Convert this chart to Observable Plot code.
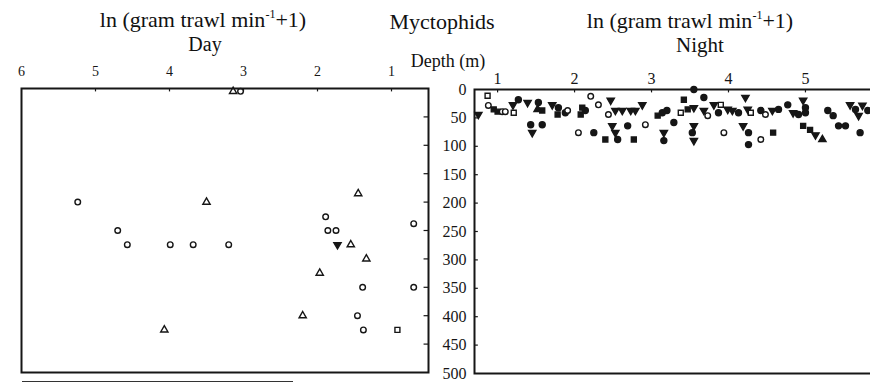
<!DOCTYPE html>
<html><head><meta charset="utf-8">
<script src="https://cdn.jsdelivr.net/npm/d3@7"></script>
<script src="https://cdn.jsdelivr.net/npm/@observablehq/plot@0.6"></script>
<style>
html,body{margin:0;padding:0;background:#fff;}
#wrap{position:relative;width:870px;height:383px;overflow:hidden;font-family:"Liberation Serif","Times New Roman",serif;color:#111;}
.t{position:absolute;white-space:nowrap;line-height:1;transform:translateX(-50%);}
.t sup{font-size:55%;vertical-align:0;position:relative;top:-0.75em;}
#left,#right{position:absolute;top:0;height:383px;}
#left{left:0;width:440px;}
#right{left:430px;width:450px;}
#left svg,#right svg{max-width:none !important;}
#legendline{position:absolute;left:22px;top:381px;width:271px;height:0;border-top:1.5px solid #333;}
</style></head><body>
<div id="wrap">
  <div id="left"></div>
  <div id="right"></div>
  <div class="t" style="left:203px;top:9px;font-size:22px;">ln (gram trawl min<sup>-1</sup>+1)</div>
  <div class="t" style="left:205px;top:34px;font-size:20px;">Day</div>
  <div class="t" style="left:442px;top:11px;font-size:22px;">Myctophids</div>
  <div class="t" style="left:448px;top:52px;font-size:18px;">Depth (m)</div>
  <div class="t" style="left:690px;top:10px;font-size:22px;">ln (gram trawl min<sup>-1</sup>+1)</div>
  <div class="t" style="left:700px;top:35px;font-size:21px;">Night</div>
  <div id="legendline"></div>
</div>
<script>
// ---- data ----
const depthTicks = [0, 50, 100, 150, 200, 250, 300, 350, 400, 450, 500];
const dayTicks = [6, 5, 4, 3, 2, 1];
const nightTicks = [1, 2, 3, 4, 5];

// Day: ln(g/trawl-min + 1), depth (m), symbol key
const dayValues = [3.14, 3.04, 5.24, 3.5, 1.45, 1.89, 0.7, 4.7, 1.86, 1.75, 4.57, 3.99, 3.68, 3.2, 1.73, 1.55, 1.34, 1.97, 1.39, 0.7, 2.2, 1.46, 4.07, 1.38, 0.92];
const dayDepths = [5, 5, 200, 200, 185, 226, 238, 250, 250, 250, 275, 275, 275, 275, 275, 275, 300, 325, 350, 350, 400, 400, 425, 425, 425];
const daySymbols = ["ot", "oc", "oc", "ot", "ot", "oc", "oc", "oc", "oc", "oc", "oc", "oc", "oc", "oc", "fd", "ot", "ot", "ot", "oc", "oc", "ot", "oc", "ot", "oc", "os"];

// Night
const nightValues = [0.87, 0.75, 0.88, 0.95, 1.06, 1.10, 1.00, 1.20, 1.27, 1.21, 1.39, 1.53, 1.52, 1.58, 1.43, 1.58, 1.45, 1.71, 1.79, 1.78, 1.88,
  2.21, 2.10, 2.08, 2.14, 1.91, 2.31, 2.47, 2.44, 2.53, 2.62, 2.73, 2.79, 2.88, 2.05, 2.25, 2.40, 2.49, 2.53, 2.56, 2.69, 2.92, 2.77, 3.08, 3.14,
  3.55, 3.42, 3.47, 3.38, 3.55, 3.68, 3.68, 3.81, 3.90, 3.87, 3.99, 4.05, 4.13, 4.22, 4.25, 4.29, 3.73, 3.20, 3.29, 3.55, 3.53, 3.55, 3.94, 4.19, 4.26, 4.26, 3.16, 3.16,
  4.42, 4.48, 4.57, 4.65, 4.77, 4.84, 4.91, 4.97, 5.00, 5.00, 4.58, 4.42, 4.97, 5.06, 5.13, 5.22, 5.29, 5.36, 5.43, 5.52, 5.58, 5.65, 5.69, 5.74, 5.81, 5.71];
const nightDepths = [11, 44, 28, 35, 39, 39, 39, 27, 18, 41, 23, 23, 35, 37, 62, 62, 76, 27, 32, 44, 41,
  12, 32, 44, 37, 37, 27, 19, 44, 37, 37, 37, 37, 27, 76, 76, 88, 64, 76, 88, 64, 62, 88, 46, 41,
  0, 18, 35, 41, 32, 14, 37, 27, 27, 41, 35, 37, 41, 14, 35, 41, 46, 37, 58, 64, 76, 90, 76, 64, 76, 97, 76, 90,
  37, 44, 37, 35, 27, 41, 44, 19, 32, 41, 76, 88, 64, 71, 80, 88, 37, 46, 64, 64, 27, 35, 46, 28, 37, 76];
const nightSymbols = ["os", "fd", "oc", "fs", "oc", "oc", "fs", "fd", "fc", "os", "fd", "fc", "ft", "fs", "fc", "fc", "fd", "fd", "fc", "fs", "fc",
  "oc", "fs", "fs", "fc", "oc", "oc", "fd", "oc", "fd", "fd", "fd", "fd", "fd", "oc", "fc", "fs", "fd", "fd", "fc", "fc", "oc", "fs", "fs", "fc",
  "fc", "fs", "fs", "os", "fd", "fc", "fd", "fd", "os", "fc", "fd", "fd", "fc", "fd", "fd", "os", "oc", "fc", "fc", "fd", "fc", "fd", "oc", "fd", "fc", "fc", "fd", "fc",
  "fc", "oc", "fd", "fc", "fc", "fd", "fc", "fd", "fc", "fc", "fs", "oc", "fs", "fs", "fd", "ft", "fc", "fc", "fc", "fc", "fd", "fc", "fd", "fd", "fc", "fc"];

// ---- rendering ----
const triangleDown = {
  draw(context, size) {
    const y = -Math.sqrt(size / (Math.sqrt(3) * 3));
    context.moveTo(0, -y * 2);
    context.lineTo(-Math.sqrt(3) * y, y);
    context.lineTo(Math.sqrt(3) * y, y);
    context.closePath();
  }
};
const ink = "#161616";
const styleOf = {
  fc: {symbol: "circle", fill: ink, stroke: ink, r: 3},
  fs: {symbol: "square", fill: ink, stroke: ink, r: 2.8},
  ft: {symbol: "triangle", fill: ink, stroke: ink, r: 2.7},
  fd: {symbol: triangleDown, fill: ink, stroke: ink, r: 2.7},
  oc: {symbol: "circle", fill: "white", stroke: ink, r: 2.8},
  ot: {symbol: "triangle", fill: "white", stroke: ink, r: 2.7},
  os: {symbol: "square", fill: "white", stroke: ink, r: 2.8}
};
function rows(vals, deps, syms) {
  return vals.map((v, i) => ({v, d: deps[i], s: syms[i]}));
}
function dots(data) {
  return Object.keys(styleOf).map(k =>
    Plot.dot(data.filter(r => r.s === k), {x: "v", y: "d", ...styleOf[k], strokeWidth: 1.4}));
}
const day = rows(dayValues, dayDepths, daySymbols);
const night = rows(nightValues, nightDepths, nightSymbols);
const font = {fontFamily: "'Liberation Serif','Times New Roman',serif", background: "transparent", color: ink, maxWidth: "none"};
const inner = depthTicks.filter(t => t > 0 && t < 500);
const fmt = d3.format("d");

const left = Plot.plot({
  width: 440, height: 383,
  marginLeft: 21, marginRight: 12, marginTop: 88, marginBottom: 11,
  x: {domain: [6, 0.5], axis: null},
  y: {domain: [0, 500], reverse: true, axis: null},
  style: font,
  marks: [
    Plot.axisX({anchor: "top", ticks: dayTicks, tickFormat: fmt, tickSize: 0, tickPadding: 13, fontSize: 14, label: null}),
    Plot.ruleX(dayTicks.filter(t => t < 6), {x: d => d, y1: 0, y2: 6, stroke: ink, strokeWidth: 1.2}),
    Plot.ruleY(inner, {y: d => d, x1: 0.5, x2: 0.56, stroke: ink, strokeWidth: 1.2}),
    ...dots(day),
    Plot.frame({stroke: ink, strokeWidth: 2})
  ]
});
document.getElementById("left").appendChild(left);

const right = Plot.plot({
  width: 450, height: 383,
  marginLeft: 44, marginRight: 5, marginTop: 89, marginBottom: 10,
  x: {domain: [0.7, 5.91], axis: null},
  y: {domain: [0, 500], reverse: true, axis: null},
  style: font,
  marks: [
    Plot.axisX({anchor: "top", ticks: nightTicks, tickFormat: fmt, tickSize: 0, tickPadding: 6, fontSize: 16, label: null}),
    Plot.axisY({anchor: "left", ticks: depthTicks, tickFormat: fmt, tickSize: 0, tickPadding: 8, fontSize: 16, label: null}),
    Plot.ruleX(nightTicks, {x: d => d, y1: 0, y2: 6, stroke: ink, strokeWidth: 1.2}),
    Plot.ruleY(inner, {y: d => d, x1: 0.7, x2: 0.75, stroke: ink, strokeWidth: 1.2}),
    ...dots(night),
    Plot.frame({stroke: ink, strokeWidth: 2})
  ]
});
document.getElementById("right").appendChild(right);
</script>
</body></html>
